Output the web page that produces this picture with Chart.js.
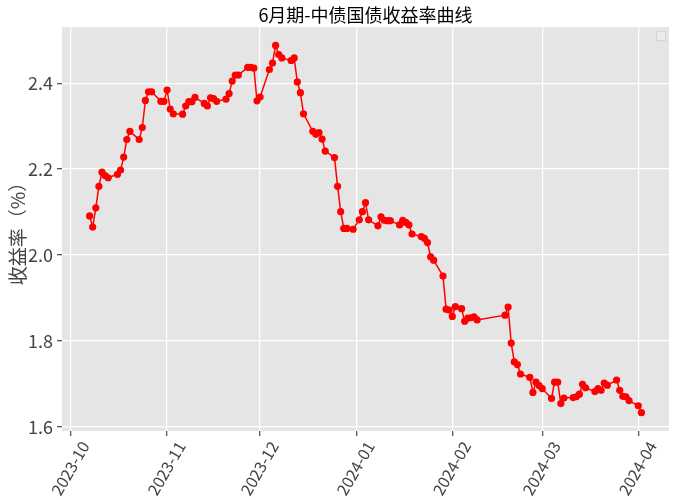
<!DOCTYPE html>
<html>
<head>
<meta charset="utf-8">
<script src="https://cdn.jsdelivr.net/npm/chart.js@4"></script>
<style>
  html, body { margin: 0; padding: 0; background: #ffffff; }
  #wrap { width: 677px; height: 500px; }
</style>
</head>
<body>
<div id="wrap"><canvas id="c" width="677" height="500"></canvas></div>
<script>
const chartTitle = '6月期-中债国债收益率曲线';
const yAxisTitle = '收益率（%）';

const dates = [
  '2023-10-07','2023-10-08','2023-10-09','2023-10-10','2023-10-11','2023-10-12','2023-10-13',
  '2023-10-16','2023-10-17','2023-10-18','2023-10-19','2023-10-20',
  '2023-10-23','2023-10-24','2023-10-25','2023-10-26','2023-10-27',
  '2023-10-30','2023-10-31','2023-11-01','2023-11-02','2023-11-03',
  '2023-11-06','2023-11-07','2023-11-08','2023-11-09','2023-11-10',
  '2023-11-13','2023-11-14','2023-11-15','2023-11-16','2023-11-17',
  '2023-11-20','2023-11-21','2023-11-22','2023-11-23','2023-11-24',
  '2023-11-27','2023-11-28','2023-11-29','2023-11-30','2023-12-01',
  '2023-12-04','2023-12-05','2023-12-06','2023-12-07','2023-12-08',
  '2023-12-11','2023-12-12','2023-12-13','2023-12-14','2023-12-15',
  '2023-12-18','2023-12-19','2023-12-20','2023-12-21','2023-12-22',
  '2023-12-25','2023-12-26','2023-12-27','2023-12-28','2023-12-29','2023-12-31',
  '2024-01-02','2024-01-03','2024-01-04','2024-01-05',
  '2024-01-08','2024-01-09','2024-01-10','2024-01-11','2024-01-12',
  '2024-01-15','2024-01-16','2024-01-17','2024-01-18','2024-01-19',
  '2024-01-22','2024-01-23','2024-01-24','2024-01-25','2024-01-26',
  '2024-01-29','2024-01-30','2024-01-31','2024-02-01','2024-02-02',
  '2024-02-04','2024-02-05','2024-02-06','2024-02-07','2024-02-08','2024-02-09',
  '2024-02-18','2024-02-19','2024-02-20','2024-02-21','2024-02-22','2024-02-23',
  '2024-02-26','2024-02-27','2024-02-28','2024-02-29','2024-03-01',
  '2024-03-04','2024-03-05','2024-03-06','2024-03-07','2024-03-08',
  '2024-03-11','2024-03-12','2024-03-13','2024-03-14','2024-03-15',
  '2024-03-18','2024-03-19','2024-03-20','2024-03-21','2024-03-22',
  '2024-03-25','2024-03-26','2024-03-27','2024-03-28','2024-03-29',
  '2024-04-01','2024-04-02'
];

const yields = [
  2.091,2.065,2.110,2.160,2.193,2.185,2.180,
  2.188,2.198,2.228,2.269,2.288,
  2.269,2.297,2.360,2.380,2.380,
  2.358,2.358,2.384,2.340,2.329,
  2.328,2.347,2.357,2.357,2.367,
  2.353,2.347,2.366,2.364,2.358,
  2.363,2.376,2.405,2.419,2.419,
  2.437,2.437,2.435,2.359,2.368,
  2.432,2.447,2.488,2.467,2.459,
  2.453,2.459,2.403,2.378,2.329,
  2.288,2.281,2.285,2.270,2.242,
  2.227,2.160,2.101,2.062,2.062,2.060,
  2.082,2.101,2.122,2.082,
  2.068,2.089,2.081,2.080,2.080,
  2.070,2.081,2.076,2.070,2.049,
  2.043,2.039,2.029,1.996,1.988,
  1.951,1.874,1.872,1.857,1.880,
  1.875,1.846,1.853,1.854,1.856,1.849,
  1.860,1.879,1.795,1.751,1.745,1.723,
  1.715,1.680,1.704,1.696,1.689,
  1.666,1.704,1.704,1.654,1.667,
  1.668,1.670,1.676,1.699,1.691,
  1.682,1.689,1.685,1.702,1.697,
  1.709,1.685,1.671,1.670,1.661,
  1.649,1.633
];

const monthTicks = ['2023-10','2023-11','2023-12','2024-01','2024-02','2024-03','2024-04'];
const yTicks = [1.6, 1.8, 2.0, 2.2, 2.4];

function dayNum(s) {
  const p = s.split('-').map(Number);
  return Date.UTC(p[0], p[1] - 1, p[2] || 1) / 86400000;
}

const points = dates.map((d, i) => ({ x: dayNum(d), y: yields[i] }));
const xs = points.map(p => p.x);
const ys = points.map(p => p.y);
const xMinD = Math.min(...xs), xMaxD = Math.max(...xs);
const yMinD = Math.min(...ys), yMaxD = Math.max(...ys);
const xPad = (xMaxD - xMinD) * 0.05;
const yPad = (yMaxD - yMinD) * 0.05;

const FONT = "'Noto Sans CJK JP', 'Noto Sans CJK SC', 'Noto Sans', sans-serif";

const plotBg = {
  id: 'plotBg',
  beforeDraw(chart) {
    const { ctx, chartArea: a } = chart;
    ctx.save();
    ctx.fillStyle = '#E5E5E5';
    ctx.fillRect(a.left, a.top, a.right - a.left, a.bottom - a.top);
    ctx.restore();
  },
  afterDraw(chart) {
    const { ctx, chartArea: a } = chart;
    ctx.save();
    ctx.fillStyle = 'rgba(235,235,235,0.9)';
    ctx.strokeStyle = '#d4d4d4';
    ctx.lineWidth = 1;
    ctx.fillRect(a.right - 12, a.top + 5, 8, 8);
    ctx.strokeRect(a.right - 12.5, a.top + 4.5, 9, 9);
    ctx.restore();
  }
};

new Chart(document.getElementById('c'), {
  type: 'line',
  data: {
    datasets: [{
      data: points,
      borderColor: '#FF0000',
      backgroundColor: '#FF0000',
      borderWidth: 1.5,
      pointRadius: 3.6,
      pointHoverRadius: 3.6,
      pointBorderWidth: 0,
      pointBackgroundColor: '#FF0000',
      tension: 0,
      fill: false
    }]
  },
  options: {
    responsive: false,
    animation: false,
    devicePixelRatio: 1,
    layout: { padding: { left: 0, right: 8, top: 0, bottom: 0 } },
    plugins: {
      legend: { display: false },
      tooltip: { enabled: false },
      title: {
        display: true,
        fullSize: false,
        text: chartTitle,
        color: '#000000',
        font: { family: FONT, size: 18, weight: 'normal' },
        padding: { top: 4, bottom: 1.5 }
      }
    },
    scales: {
      x: {
        type: 'linear',
        min: xMinD - xPad,
        max: xMaxD + xPad,
        border: { display: false },
        grid: { color: '#FFFFFF', lineWidth: 1.3, tickColor: '#555555', tickLength: 5, drawTicks: true },
        ticks: {
          autoSkip: false,
          minRotation: 60,
          maxRotation: 60,
          padding: 2,
          labelOffset: 14,
          color: '#444444',
          font: { family: FONT, size: 16 },
          callback: (v, i) => monthTicks[i]
        },
        afterBuildTicks: s => { s.ticks = monthTicks.map(m => ({ value: dayNum(m) })); },
        afterFit: s => { s.height = 69; }
      },
      y: {
        type: 'linear',
        min: yMinD - yPad,
        max: yMaxD + yPad,
        border: { display: false },
        grid: { color: '#FFFFFF', lineWidth: 1.3, tickColor: '#555555', tickLength: 5, drawTicks: true },
        ticks: {
          padding: 4,
          color: '#444444',
          font: { family: FONT, size: 18 },
          callback: v => Number(v).toFixed(1)
        },
        afterBuildTicks: s => { s.ticks = yTicks.map(v => ({ value: v })); },
        afterFit: s => { s.width = 62; },
        title: {
          display: true,
          text: yAxisTitle,
          color: '#444444',
          font: { family: FONT, size: 19 },
          padding: { top: 6, bottom: 0 }
        }
      }
    }
  },
  plugins: [plotBg]
});
</script>
</body>
</html>
